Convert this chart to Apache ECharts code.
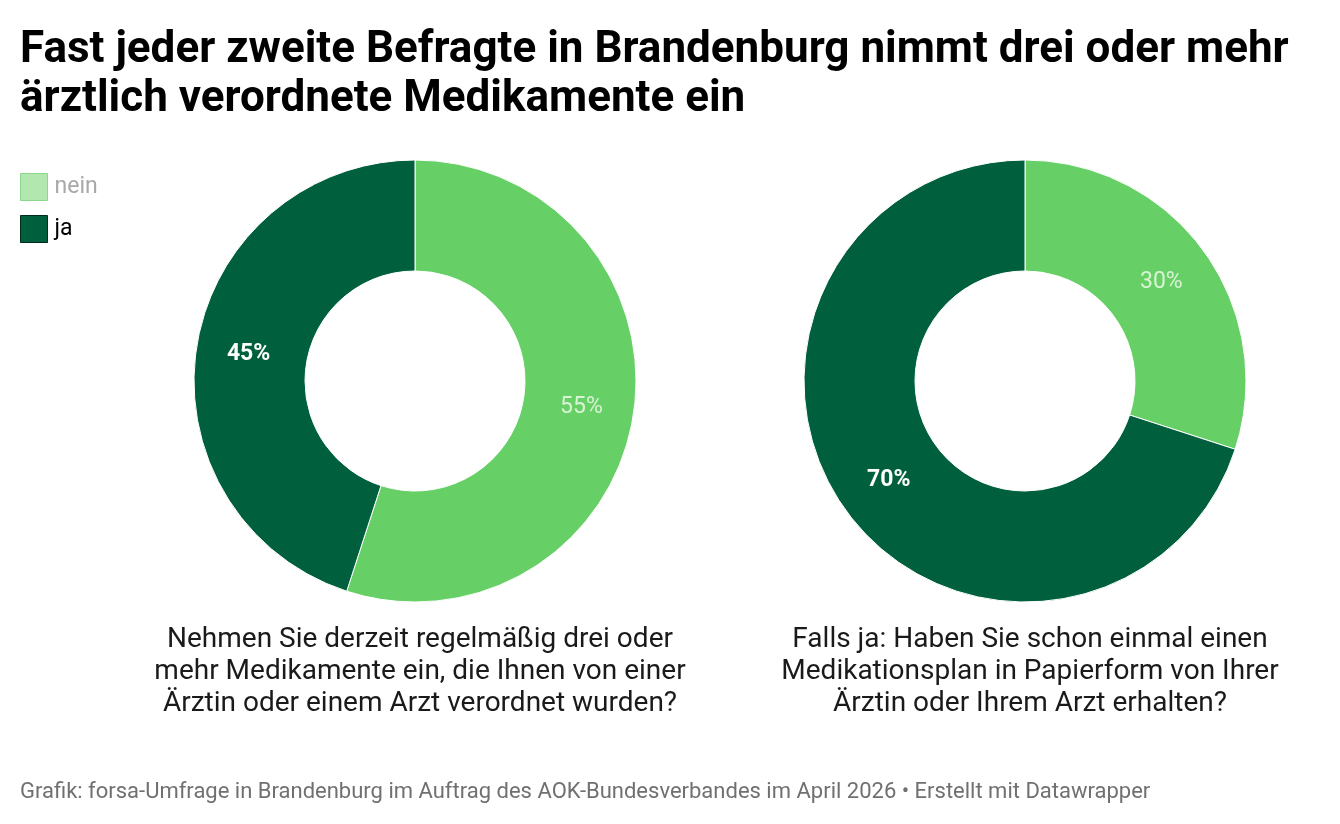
<!DOCTYPE html>
<html>
<head>
<meta charset="utf-8">
<title>Medikamente Brandenburg</title>
<script src="https://cdn.jsdelivr.net/npm/echarts@6/dist/echarts.min.js"></script>
<style>
  html, body { margin: 0; padding: 0; background: #fff; }
  #chart { width: 1340px; height: 824px; }
</style>
</head>
<body>
<div id="chart"></div>
<script type="text/javascript">
// Daten
var categories = ['nein', 'ja'];
var medikamente = [55, 45];   // drei oder mehr Medikamente
var medplan = [30, 70];       // Medikationsplan in Papierform
var questions = [
  'Nehmen Sie derzeit regelmäßig drei oder\nmehr Medikamente ein, die Ihnen von einer\nÄrztin oder einem Arzt verordnet wurden?',
  'Falls ja: Haben Sie schon einmal einen\nMedikationsplan in Papierform von Ihrer\nÄrztin oder Ihrem Arzt erhalten?'
];

var colors = { nein: '#66d066', ja: '#005f3d' };
var font = 'Roboto, "Noto Sans", sans-serif';

function makeData(values) {
  return categories.map(function (c, i) {
    var dark = c === 'ja';
    return {
      name: c,
      value: values[i],
      itemStyle: { color: colors[c] },
      label: {
        color: dark ? '#ffffff' : '#d9f3d4',
        fontWeight: dark ? 'bold' : 'normal'
      }
    };
  });
}

function pie(center, values) {
  return {
    type: 'pie',
    center: center,
    radius: [110, 221],
    startAngle: 90,
    clockwise: true,
    avoidLabelOverlap: false,
    silent: true,
    itemStyle: { borderColor: '#ffffff', borderWidth: 1 },
    label: {
      show: true,
      position: 'inside',
      formatter: '{c}%',
      fontFamily: font,
      fontSize: 23
    },
    labelLine: { show: false },
    emphasis: { disabled: true },
    data: makeData(values)
  };
}

var myChart = echarts.init(document.getElementById('chart'));
var option = {
  backgroundColor: '#ffffff',
  animation: false,
  title: [
    {
      text: 'Fast jeder zweite Befragte in Brandenburg nimmt drei oder mehr\närztlich verordnete Medikamente ein',
      left: 15, top: 21,
      textStyle: { fontFamily: font, fontSize: 44, fontWeight: 'bold', color: '#000', lineHeight: 49 }
    },
    {
      text: questions[0],
      left: 415, top: 619, textAlign: 'center',
      textStyle: { fontFamily: font, fontSize: 28, fontWeight: 'normal', color: '#1a1a1a', lineHeight: 32 }
    },
    {
      text: questions[1],
      left: 1025, top: 619, textAlign: 'center',
      textStyle: { fontFamily: font, fontSize: 28, fontWeight: 'normal', color: '#1a1a1a', lineHeight: 32 }
    },
    {
      text: 'Grafik: forsa-Umfrage in Brandenburg im Auftrag des AOK-Bundesverbandes im April 2026 • Erstellt mit Datawrapper',
      left: 15, top: 776,
      textStyle: { fontFamily: font, fontSize: 22, fontWeight: 'normal', color: '#707070' }
    }
  ],
  legend: {
    orient: 'vertical',
    left: 15, top: 168,
    icon: 'rect',
    itemWidth: 27, itemHeight: 27,
    itemGap: 14,
    selectedMode: false,
    textStyle: { fontFamily: font, fontSize: 23, padding: [0, 0, 0, 2] },
    data: [
      { name: 'nein', itemStyle: { color: '#b2e8b0', borderColor: '#8cd98a', borderWidth: 1 }, textStyle: { color: '#a8a8a8' } },
      { name: 'ja', itemStyle: { color: colors.ja, borderColor: '#002b1b', borderWidth: 1 }, textStyle: { color: '#000' } }
    ]
  },
  series: [
    pie([415, 381], medikamente),
    pie([1025, 381], medplan)
  ]
};
myChart.setOption(option);
</script>
</body>
</html>
